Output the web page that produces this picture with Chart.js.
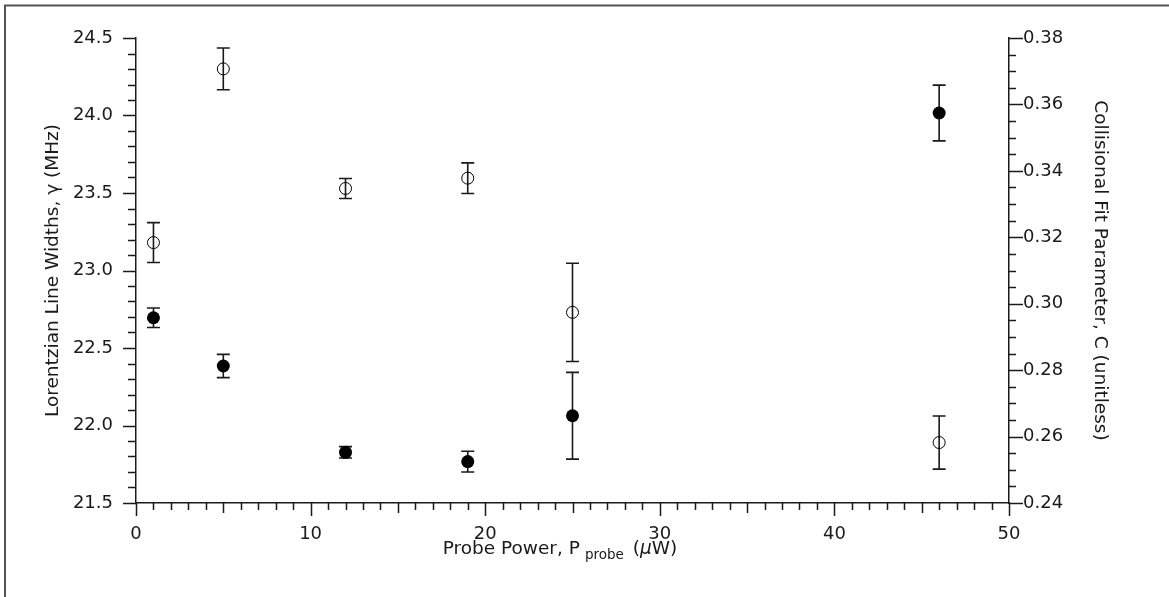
<!DOCTYPE html>
<html>
<head>
<meta charset="utf-8">
<script src="https://cdn.jsdelivr.net/npm/chart.js@4"></script>
<style>
  html, body { margin: 0; padding: 0; background: #fff; }
  #wrap { width: 1169px; height: 597px; position: relative; }
</style>
</head>
<body>
<div id="wrap"><canvas id="chart" width="1169" height="597"></canvas></div>
<script>
// probe power (uW)
const probePower = [1, 5, 12, 19, 25, 46];
// Lorentzian line widths, gamma (MHz) - filled markers, left axis
const gammaWidth = [22.695, 22.384, 21.827, 21.767, 22.063, 24.016];
const gammaErr = [0.063, 0.075, 0.037, 0.067, 0.28, 0.18];
// collisional fit parameter C - open markers, right axis
const collParam = [0.3184, 0.3707, 0.3347, 0.3378, 0.2974, 0.2582];
const collErr = [0.006, 0.0063, 0.003, 0.0046, 0.0148, 0.008];

const tickFont = { family: "DejaVu Sans", size: 18 };
const titleFont = "18.5px 'DejaVu Sans'";
const subFont = "13.5px 'DejaVu Sans'";
const ink = "#1a1a1a";

function toPoints(xs, ys) {
  return xs.map((x, i) => ({ x: x, y: ys[i] }));
}

// error bars, drawn under the markers
const errorBars = {
  id: "errorBars",
  beforeDatasetsDraw(chart) {
    const ctx = chart.ctx;
    const xs = chart.scales.x;
    const sets = [
      { scale: chart.scales.y, vals: gammaWidth, err: gammaErr },
      { scale: chart.scales.y1, vals: collParam, err: collErr }
    ];
    ctx.save();
    ctx.strokeStyle = ink;
    ctx.lineWidth = 1.6;
    sets.forEach(s => {
      probePower.forEach((p, i) => {
        const px = xs.getPixelForValue(p);
        const top = s.scale.getPixelForValue(s.vals[i] + s.err[i]);
        const bot = s.scale.getPixelForValue(s.vals[i] - s.err[i]);
        ctx.beginPath();
        ctx.moveTo(px, top); ctx.lineTo(px, bot);
        ctx.moveTo(px - 6.5, top); ctx.lineTo(px + 6.5, top);
        ctx.moveTo(px - 6.5, bot); ctx.lineTo(px + 6.5, bot);
        ctx.stroke();
      });
    });
    ctx.restore();
  }
};

// tick marks (minor + major), titles and the frame
const decorations = {
  id: "decorations",
  afterDraw(chart) {
    const ctx = chart.ctx;
    const area = chart.chartArea;
    const xs = chart.scales.x, yl = chart.scales.y, yr = chart.scales.y1;
    ctx.save();
    ctx.strokeStyle = ink;
    ctx.lineWidth = 1.5;
    ctx.beginPath();
    // x axis: every 1, longer every 5 and 10
    for (let v = 0; v <= 50; v++) {
      const px = Math.round(xs.getPixelForValue(v)) + 0.5;
      const len = v % 10 === 0 ? 13 : (v % 5 === 0 ? 10 : 7);
      ctx.moveTo(px, area.bottom); ctx.lineTo(px, area.bottom + len);
    }
    // left axis: every 0.1, major every 0.5
    for (let k = 0; k <= 30; k++) {
      const py = Math.round(yl.getPixelForValue(21.5 + k * 0.1)) + 0.5;
      const len = k % 5 === 0 ? 13 : 8;
      ctx.moveTo(area.left, py); ctx.lineTo(area.left - len, py);
    }
    // right axis: every 0.005, major every 0.02
    for (let k = 0; k <= 28; k++) {
      const py = Math.round(yr.getPixelForValue(0.24 + k * 0.005)) + 0.5;
      const len = k % 4 === 0 ? 14 : 7;
      ctx.moveTo(area.right, py); ctx.lineTo(area.right + len, py);
    }
    ctx.stroke();

    // frame around figure (top and left edges)
    ctx.strokeStyle = "#555";
    ctx.lineWidth = 2;
    ctx.beginPath();
    ctx.moveTo(5, 597); ctx.lineTo(5, 5.5); ctx.lineTo(1169, 5.5);
    ctx.stroke();

    // axis titles
    ctx.fillStyle = ink;
    ctx.font = titleFont;
    ctx.textAlign = "center";
    ctx.textBaseline = "middle";
    const midY = (area.top + area.bottom) / 2;
    ctx.save();
    ctx.translate(53, midY);
    ctx.rotate(-Math.PI / 2);
    ctx.fillText("Lorentzian Line Widths, \u03b3 (MHz)", 0, 0);
    ctx.restore();
    ctx.save();
    ctx.translate(1100, midY);
    ctx.rotate(Math.PI / 2);
    ctx.fillText("Collisional Fit Parameter, C (unitless)", 0, 0);
    ctx.restore();

    // x title with subscript
    ctx.textAlign = "left";
    ctx.textBaseline = "alphabetic";
    const base = 554;
    const partA = "Probe Power, P";
    const partB = "probe";
    const partC = "(";
    const partD = "\u03bc";
    const partE = "W)";
    ctx.font = titleFont;
    const wA = ctx.measureText(partA).width;
    ctx.font = subFont;
    const wB = ctx.measureText(partB).width;
    ctx.font = titleFont;
    const wC = ctx.measureText(partC).width;
    ctx.font = "italic " + titleFont;
    const wD = ctx.measureText(partD).width;
    ctx.font = titleFont;
    const wE = ctx.measureText(partE).width;
    const total = wA + 5 + wB + 9 + wC + wD + wE;
    let x0 = 560 - total / 2;
    ctx.fillText(partA, x0, base);
    x0 += wA + 5;
    ctx.font = subFont;
    ctx.fillText(partB, x0, base + 5);
    x0 += wB + 9;
    ctx.font = titleFont;
    ctx.fillText(partC, x0, base);
    x0 += wC;
    ctx.font = "italic " + titleFont;
    ctx.fillText(partD, x0, base);
    x0 += wD;
    ctx.font = titleFont;
    ctx.fillText(partE, x0, base);
    ctx.restore();
  }
};

const noGrid = { display: true, drawOnChartArea: false, drawTicks: true, tickLength: 13, color: "rgba(0,0,0,0)" };

new Chart(document.getElementById("chart"), {
  type: "scatter",
  data: {
    datasets: [
      {
        label: "gamma",
        data: toPoints(probePower, gammaWidth),
        yAxisID: "y",
        pointRadius: 6.5,
        pointBackgroundColor: "#000",
        pointBorderColor: "#000",
        pointBorderWidth: 0
      },
      {
        label: "C",
        data: toPoints(probePower, collParam),
        yAxisID: "y1",
        pointRadius: 6,
        pointBackgroundColor: "rgba(0,0,0,0)",
        pointBorderColor: "#000",
        pointBorderWidth: 1
      }
    ]
  },
  options: {
    responsive: false,
    animation: false,
    devicePixelRatio: 1,
    layout: { padding: { top: 38, left: 0, right: 0, bottom: 0 } },
    plugins: { legend: { display: false }, tooltip: { enabled: false } },
    scales: {
      x: {
        type: "linear",
        position: "bottom",
        min: 0, max: 50,
        grid: noGrid,
        border: { display: true, color: ink, width: 1.5 },
        ticks: { stepSize: 10, font: tickFont, color: ink, padding: 8, maxRotation: 0 },
        afterFit(scale) { scale.height = 94; }
      },
      y: {
        type: "linear",
        position: "left",
        min: 21.5, max: 24.5,
        grid: noGrid,
        border: { display: true, color: ink, width: 1.5 },
        ticks: { stepSize: 0.5, font: tickFont, color: ink, padding: 10, callback: v => v.toFixed(1) },
        afterFit(scale) { scale.width = 136; }
      },
      y1: {
        type: "linear",
        position: "right",
        min: 0.24, max: 0.38,
        grid: noGrid,
        border: { display: true, color: ink, width: 1.5 },
        ticks: { stepSize: 0.02, font: tickFont, color: ink, padding: 1, callback: v => v.toFixed(2) },
        afterFit(scale) { scale.width = 160; }
      }
    }
  },
  plugins: [errorBars, decorations]
});
</script>
</body>
</html>
